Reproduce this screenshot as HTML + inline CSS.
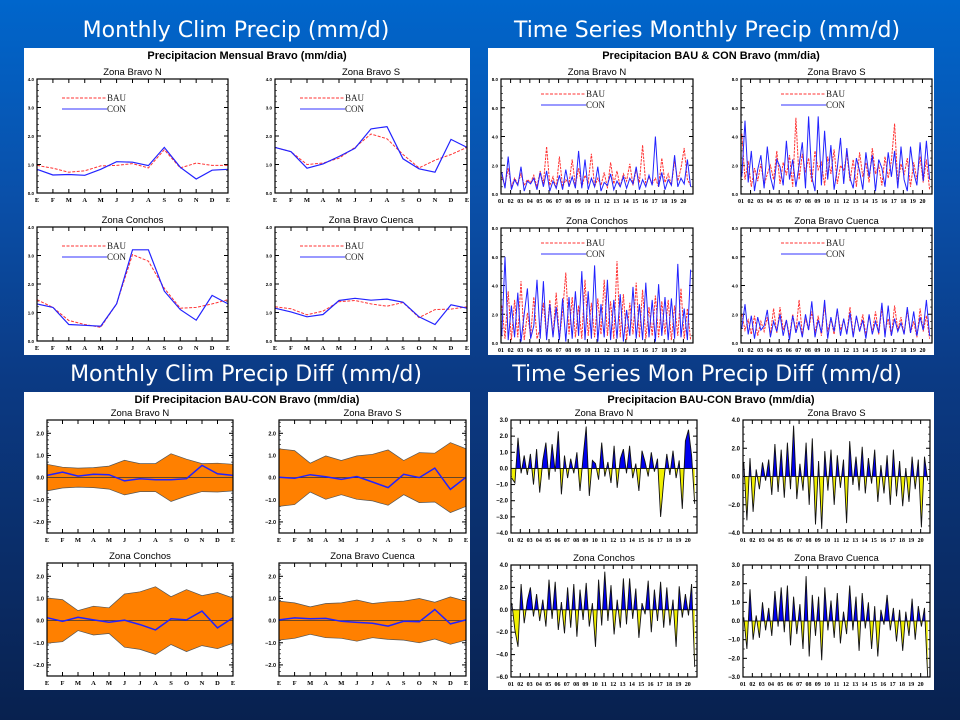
<!DOCTYPE html>
<html><head><meta charset="utf-8"><style>
html,body{margin:0;padding:0;width:960px;height:720px;overflow:hidden;}
body{background:linear-gradient(180deg,#0066cc 0px,#0a4fa8 200px,#0b3a84 380px,#0a2a62 600px,#08214f 720px);}
svg{position:absolute;left:0;top:0;}
</style></head><body>
<svg id="s" width="960" height="720" xmlns="http://www.w3.org/2000/svg"></svg>
<script>
// ---------- DATA ----------
const monthLabels=['E','F','M','A','M','J','J','A','S','O','N','D','E'];
const yearLabels=['01','02','03','04','05','06','07','08','09','10','11','12','13','14','15','16','17','18','19','20'];
const zoneNames=['Zona Bravo N','Zona Bravo S','Zona Conchos','Zona Bravo Cuenca'];
// Monthly climatology
const climN_BAU=[0.97,0.87,0.73,0.78,0.95,0.97,1.03,0.88,1.52,0.88,1.05,0.97,0.97];
const climN_CON=[0.83,0.63,0.65,0.62,0.83,1.1,1.08,0.96,1.6,0.9,0.49,0.8,0.83];
const climS_BAU=[1.6,1.45,1.0,1.05,1.22,1.6,2.07,1.9,1.35,0.88,1.15,1.35,1.6];
const climS_CON=[1.6,1.45,0.87,1.02,1.28,1.57,2.25,2.33,1.2,0.85,0.73,1.88,1.6];
const climC_BAU=[1.45,1.18,0.72,0.58,0.48,1.3,3.03,2.8,1.85,1.15,1.18,1.3,1.45];
const climC_CON=[1.3,1.18,0.58,0.55,0.52,1.3,3.2,3.2,1.75,1.1,0.73,1.6,1.3];
const climQ_BAU=[1.2,1.13,0.92,1.05,1.38,1.42,1.3,1.22,1.35,0.82,1.1,1.12,1.2];
const climQ_CON=[1.15,1.02,0.85,0.93,1.42,1.5,1.43,1.47,1.36,0.85,0.58,1.27,1.15];
// Monthly diff mean and spread
const difN_mean=[0.1,0.25,0.07,0.15,0.13,-0.15,-0.05,-0.1,-0.1,-0.05,0.55,0.17,0.1];
const difN_band=[0.6,0.47,0.43,0.45,0.52,0.78,0.63,0.63,1.08,0.83,0.63,0.65,0.6];
const difS_mean=[0.02,-0.03,0.13,0.04,-0.08,0.05,-0.2,-0.45,0.15,0.0,0.43,-0.53,0.02];
const difS_band=[1.3,1.22,0.65,0.98,0.77,0.98,1.05,1.25,0.77,1.13,1.1,1.58,1.3];
const difC_mean=[0.13,-0.03,0.15,0.03,-0.07,0.02,-0.18,-0.42,0.08,0.03,0.43,-0.33,0.13];
const difC_band=[1.02,0.95,0.45,0.65,0.58,1.2,1.3,1.53,1.08,1.4,1.13,1.27,1.02];
const difQ_mean=[0.03,0.12,0.08,0.1,-0.03,-0.08,-0.12,-0.25,-0.03,-0.05,0.5,-0.15,0.03];
const difQ_band=[0.88,0.8,0.62,0.77,0.8,0.93,0.77,0.85,0.88,1.0,0.83,1.07,0.88];
// Time series (sampled every 4 months)
const tsN_BAU=[1.2,0.6,1.8,0.5,1.1,0.7,1.4,0.6,1.0,0.8,1.3,0.5,1.6,0.7,3.3,0.6,1.2,0.4,2.6,0.5,1.0,0.7,2.4,0.6,1.8,0.5,1.3,0.8,2.8,0.5,1.1,0.6,1.5,0.4,2.2,0.7,1.6,0.5,1.4,0.9,2.1,0.6,1.7,0.8,3.4,0.6,1.2,0.7,1.1,0.5,2.5,0.8,1.4,0.6,2.3,0.9,1.8,3.2,1.0,0.6];
const tsN_CON=[1.5,0.4,2.6,0.3,1.0,0.6,1.9,0.2,0.9,0.7,1.1,0.3,1.5,0.5,1.6,0.2,0.9,0.4,1.3,0.3,1.7,0.5,1.2,0.4,3.0,0.4,2.4,0.3,1.1,0.5,1.9,0.2,0.8,0.6,1.4,0.3,0.9,0.5,1.2,0.4,1.1,0.7,1.9,0.3,1.0,0.5,1.3,0.6,4.0,0.5,1.5,0.3,1.0,0.6,2.7,0.5,1.1,0.7,2.4,0.5];
const tsS_BAU=[4.2,1.0,2.3,0.5,1.8,0.9,2.1,0.6,1.4,2.0,1.0,3.0,0.7,2.2,1.3,2.7,0.5,5.3,1.0,2.8,1.5,2.5,0.8,3.0,1.7,2.2,0.6,2.6,1.4,3.1,0.7,2.0,1.6,2.8,0.9,2.4,0.5,2.9,1.2,2.2,0.8,3.2,1.4,2.0,0.6,2.6,1.1,2.3,4.9,0.7,2.1,1.3,2.5,0.5,2.2,1.0,2.6,0.8,2.4,0.3];
const tsS_CON=[1.2,5.1,0.8,3.0,0.2,1.7,2.7,0.4,3.3,1.2,0.3,2.4,1.9,0.6,3.7,1.0,2.4,0.5,2.0,3.6,0.4,5.4,1.2,0.2,5.4,0.6,4.4,1.0,3.4,0.3,1.8,3.9,0.7,3.2,1.1,0.4,2.5,1.6,0.3,2.9,1.2,2.7,0.2,2.4,1.8,0.5,2.9,1.2,3.0,0.4,3.3,1.0,0.2,3.3,1.5,0.6,3.6,0.9,3.7,1.0];
const tsC_BAU=[2.6,0.3,3.6,0.2,3.0,0.4,4.3,0.2,2.1,0.5,3.2,0.3,1.0,2.8,0.4,3.0,0.5,3.5,0.3,2.2,4.9,0.6,3.2,0.4,2.6,0.3,4.4,0.5,2.8,0.4,3.1,0.6,4.4,0.5,2.9,0.3,5.7,0.4,3.4,0.2,2.8,0.6,4.2,0.4,3.7,0.3,2.5,0.5,3.3,0.4,2.9,0.6,3.0,0.2,2.6,0.5,3.8,0.3,2.4,0.2];
const tsC_CON=[0.5,6.0,0.2,2.6,0.4,3.5,0.1,2.0,3.8,0.3,1.2,4.4,0.3,4.3,0.2,2.7,0.4,2.5,0.2,3.1,0.1,3.2,0.3,3.6,0.5,5.0,0.2,3.6,0.3,5.4,0.1,2.7,0.4,4.4,0.2,3.0,0.3,3.4,0.1,2.3,0.5,3.9,0.3,2.7,0.2,4.2,0.4,3.0,0.1,4.1,0.5,3.2,0.2,3.1,0.3,5.5,0.4,2.4,0.2,5.1];
const tsQ_BAU=[2.0,0.9,1.6,0.6,1.9,0.5,1.5,0.8,1.8,0.6,2.4,0.7,2.5,0.9,1.6,0.5,2.0,0.8,3.0,0.6,1.7,0.9,2.2,0.7,1.9,0.5,2.6,0.8,1.7,0.6,2.3,0.9,1.6,0.7,2.5,0.6,1.8,0.8,2.0,0.5,1.9,0.7,2.2,0.6,2.4,0.8,1.7,0.5,2.6,0.9,1.8,0.6,2.3,0.7,1.5,0.4,2.4,0.8,1.9,0.3];
const tsQ_CON=[1.0,2.7,0.6,1.9,0.3,1.8,0.9,1.2,2.3,0.4,1.5,0.8,2.0,0.5,1.6,0.2,1.9,0.7,1.5,0.4,2.0,0.9,2.9,0.4,1.6,0.7,3.0,0.3,1.8,0.8,2.4,0.5,1.7,0.6,2.1,0.4,1.9,0.8,1.6,0.3,2.0,0.6,1.5,0.7,2.8,0.4,2.6,0.5,1.7,0.8,1.4,0.6,2.5,0.7,2.2,0.5,1.8,0.9,3.0,0.5];
// Time series of differences BAU-CON (sampled every 4 months)
const dfN=[-0.6,-0.9,1.9,-0.3,0.8,-0.4,0.9,-1.0,1.2,-1.5,0.5,1.6,-0.7,1.5,-0.2,2.3,-1.6,0.8,-0.6,0.6,-0.3,1.0,-1.4,0.7,2.6,-1.7,0.5,0.3,-0.7,1.6,-0.5,0.4,-0.9,1.4,-1.2,0.6,1.2,-0.3,1.4,-0.6,0.3,-1.4,1.1,0.4,-0.5,1.0,-0.2,0.6,-3.0,-0.8,0.9,-0.4,1.1,-0.6,0.5,-2.5,1.7,2.4,0.8,-2.2];
const dfS=[1.0,-3.1,1.3,-2.5,0.5,-0.9,1.0,-0.3,1.2,-1.3,2.3,-1.1,1.9,-1.5,2.4,-0.9,3.6,-1.6,0.9,-1.0,2.4,-2.0,2.7,-3.4,1.1,-3.7,1.8,-1.0,1.9,-2.0,1.5,-0.8,1.2,-3.3,2.5,-0.6,1.4,-1.0,2.1,-1.2,1.3,-0.5,1.9,-1.8,0.8,-1.2,1.5,-2.0,1.9,-1.4,1.1,-2.1,0.6,-1.8,1.4,-0.9,1.2,-3.6,1.4,-0.3];
const dfC=[0.6,-1.8,-3.3,2.3,-1.2,0.8,2.0,-0.6,1.4,-1.0,0.9,-1.5,2.7,-0.8,2.5,-1.8,0.7,-2.1,2.0,-1.6,2.3,-2.4,1.8,-0.9,2.4,-1.5,0.6,-3.3,2.7,-1.4,3.4,-1.0,2.2,-2.2,0.9,-1.6,2.8,-1.3,2.8,-0.8,1.9,-2.5,0.6,-0.4,2.6,-2.0,1.8,-1.0,2.5,-1.6,2.0,-1.4,0.9,-3.3,2.1,-0.7,1.4,-0.5,2.3,-5.1];
const dfQ=[0.2,-1.5,1.7,-1.0,0.3,-0.9,1.0,-0.5,0.7,-0.8,1.6,-0.3,1.8,-0.6,1.9,-1.3,1.3,-0.7,0.9,-1.5,2.4,-1.9,1.4,-0.8,1.3,-2.1,1.8,-0.5,1.1,-0.9,1.5,-1.2,0.5,-0.7,1.9,-0.5,1.3,-1.6,1.5,-0.4,1.0,-1.5,0.8,-1.9,0.6,-0.2,1.4,-0.5,0.7,-1.1,0.6,-1.6,0.5,-0.8,1.2,-1.0,0.8,-0.3,0.7,-3.0];

// ---------- DRAW ----------
const NS='http://www.w3.org/2000/svg';
const svg=document.getElementById('s');
function el(tag,attrs,parent,txt){const e=document.createElementNS(NS,tag);for(const k in attrs)e.setAttribute(k,attrs[k]);if(txt!==undefined)e.textContent=txt;(parent||svg).appendChild(e);return e;}
const F='"Liberation Sans",Arial,sans-serif';
const FS='"Liberation Serif",serif';
let clipId=0;

function slideTitle(txt,cx,y,name){
  const t=el('text',{x:cx,y:y,'text-anchor':'middle','font-family':'"DejaVu Sans",sans-serif','font-size':22,fill:'#fff'},svg,txt);
  
}
function whitePanel(x,y,w,h,title,name){
  const g=el('g',{});
  
  el('rect',{x:x,y:y,width:w,height:h,fill:'#fff'},g);
  const t=el('text',{x:x+w/2,y:y+11,'text-anchor':'middle','font-family':F,'font-size':11,'font-weight':'bold',fill:'#000'},g,title);
  
  return g;
}
function axes(g,o){
  const {x0,x1,y0,y1,xmin,xmax,ymin,ymax,yticks,ydec,xlabPos,xlabs,title,minorY,minorX,yfs,xfs,xfont}=o;
  const sx=v=>x0+(v-xmin)/(xmax-xmin)*(x1-x0);
  const sy=v=>y1-(v-ymin)/(ymax-ymin)*(y1-y0);
  const ax=el('g',{},g);
  
  const tt=el('text',{x:(x0+x1)/2,y:y0-4,'text-anchor':'middle','font-family':F,'font-size':9.5,fill:'#000'},ax,title);
  
  yticks.forEach(v=>{const y=sy(v);
    el('line',{x1:x0,x2:x0+4,y1:y,y2:y,stroke:'#000','stroke-width':1},ax);
    el('line',{x1:x1,x2:x1-4,y1:y,y2:y,stroke:'#000','stroke-width':1},ax);
    const l=el('text',{x:x0-3,y:y+2,'text-anchor':'end','font-family':F,'font-size':yfs||5,'font-weight':'bold',fill:'#000'},ax,(v<0?'\u2212'+Math.abs(v).toFixed(ydec):v.toFixed(ydec)));
    
  });
  if(minorY){for(let v=ymin;v<=ymax+1e-9;v+=minorY){const y=sy(v);
    el('line',{x1:x0,x2:x0+2,y1:y,y2:y,stroke:'#000','stroke-width':0.6},ax);
    el('line',{x1:x1,x2:x1-2,y1:y,y2:y,stroke:'#000','stroke-width':0.6},ax);}}
  xlabPos.forEach((v,i)=>{const x=sx(v);
    el('line',{x1:x,x2:x,y1:y1,y2:y1-4,stroke:'#000','stroke-width':1},ax);
    el('line',{x1:x,x2:x,y1:y0,y2:y0+4,stroke:'#000','stroke-width':1},ax);
    const l=el('text',{x:x,y:y1+9,'text-anchor':'middle','font-family':xfont||FS,'font-size':xfs||6.5,'font-weight':'bold',fill:'#000'},ax,xlabs[i]);
    
  });
  return {sx,sy,ax,frame:()=>{const r=el('rect',{x:x0,y:y0,width:x1-x0,height:y1-y0,fill:'none',stroke:'#000','stroke-width':1.2},g);}};
}
function line(g,arr,sx,sy,xf,stroke,w,dash,name){
  const pts=arr.map((v,i)=>sx(xf(i)).toFixed(1)+','+sy(v).toFixed(1)).join(' ');
  const p=el('polyline',{points:pts,fill:'none',stroke:stroke,'stroke-width':w},g);
  if(dash)p.setAttribute('stroke-dasharray',dash);
  
  return p;
}
function legend(g,x,y,fs){
  const lg=el('g',{},g);
  
  el('line',{x1:x,x2:x+45,y1:y,y2:y,stroke:'#f33','stroke-width':1,'stroke-dasharray':'3,1.5'},lg);
  const a=el('text',{x:x+45,y:y+3,'font-family':FS,'font-size':fs||8,fill:'#222'},lg,'BAU');
  
  el('line',{x1:x,x2:x+45,y1:y+11,y2:y+11,stroke:'#33f','stroke-width':1},lg);
  const b=el('text',{x:x+45,y:y+14,'font-family':FS,'font-size':fs||8,fill:'#222'},lg,'CON');
  
}

slideTitle('Monthly Clim Precip (mm/d)',236,37,'title-monthly-clim');
slideTitle('Time Series Monthly Precip (mm/d)',707,37,'title-time-series');
slideTitle('Monthly Clim Precip Diff (mm/d)',246,381,'title-monthly-diff');
slideTitle('Time Series Mon Precip Diff (mm/d)',707,381,'title-time-series-diff');

// ===== Panel 1: monthly clim =====
(function(){
  const g=whitePanel(24,48,446,307,'Precipitacion Mensual Bravo (mm/dia)','panel-monthly-clim');
  const boxes=[[37,228,79,193],[275,467,79,193],[37,228,227,341],[275,467,227,341]];
  const data=[[climN_BAU,climN_CON],[climS_BAU,climS_CON],[climC_BAU,climC_CON],[climQ_BAU,climQ_CON]];
  boxes.forEach((b,k)=>{
    const A=axes(g,{x0:b[0],x1:b[1],y0:b[2],y1:b[3],xmin:0,xmax:12,ymin:0,ymax:4,yticks:[0,1,2,3,4],ydec:1,minorY:0.2,
      xlabPos:monthLabels.map((_,i)=>i),xlabs:monthLabels,title:zoneNames[k],yfs:4.5});
    line(g,data[k][0],A.sx,A.sy,i=>i,'#f33',1,'3,1.5','bau-line');
    line(g,data[k][1],A.sx,A.sy,i=>i,'#22f',1.2,null,'con-line');
    legend(g,b[0]+25,b[2]+19,9);
    A.frame();
  });
})();

// ===== Panel 2: time series =====
(function(){
  const g=whitePanel(488,48,446,307,'Precipitacion BAU & CON Bravo (mm/dia)','panel-time-series');
  const boxes=[[501,693,79,194],[741,932,79,194],[501,693,228,343],[741,932,228,343]];
  const data=[[tsN_BAU,tsN_CON],[tsS_BAU,tsS_CON],[tsC_BAU,tsC_CON],[tsQ_BAU,tsQ_CON]];
  boxes.forEach((b,k)=>{
    const A=axes(g,{x0:b[0],x1:b[1],y0:b[2],y1:b[3],xmin:0,xmax:240,ymin:0,ymax:8,yticks:[0,2,4,6,8],ydec:1,minorY:0.5,
      xlabPos:yearLabels.map((_,i)=>i*12),xlabs:yearLabels,title:zoneNames[k],yfs:4.5,xfs:6});
    const xf=i=>i*4+1;
    line(g,data[k][0],A.sx,A.sy,xf,'#f33',1,'2.5,1','bau-series');
    line(g,data[k][1],A.sx,A.sy,xf,'#22f',1,null,'con-series');
    legend(g,b[0]+40,b[2]+15,9);
    A.frame();
  });
})();

// ===== Panel 3: monthly diff =====
(function(){
  const g=whitePanel(24,392,446,298,'Dif Precipitacion BAU-CON Bravo (mm/dia)','panel-monthly-diff');
  const boxes=[[47,233,420,533],[279,466,420,533],[47,233,563,676],[279,466,563,676]];
  const data=[[difN_mean,difN_band],[difS_mean,difS_band],[difC_mean,difC_band],[difQ_mean,difQ_band]];
  boxes.forEach((b,k)=>{
    const A=axes(g,{x0:b[0],x1:b[1],y0:b[2],y1:b[3],xmin:0,xmax:12,ymin:-2.5,ymax:2.6,yticks:[-2,-1,0,1,2],ydec:1,minorY:0.2,
      xlabPos:monthLabels.map((_,i)=>i),xlabs:monthLabels,title:zoneNames[k],yfs:5.5});
    const m=data[k][0],bd=data[k][1];
    const up=m.map((v,i)=>A.sx(i).toFixed(1)+','+A.sy(bd[i]).toFixed(1));
    const dn=m.map((v,i)=>A.sx(i).toFixed(1)+','+A.sy(-bd[i]).toFixed(1)).reverse();
    const p=el('polygon',{points:up.concat(dn).join(' '),fill:'#ff8000',stroke:'#555','stroke-width':0.7},g);
    
    const z=el('line',{x1:b[0],x2:b[1],y1:A.sy(0),y2:A.sy(0),stroke:'#333','stroke-width':0.8},g);
    
    line(g,m,A.sx,A.sy,i=>i,'#22f',1.5,null,'mean-diff-line');
    A.frame();
  });
})();

// ===== Panel 4: time series diff =====
(function(){
  const g=whitePanel(488,392,446,298,'Precipitacion BAU-CON Bravo (mm/dia)','panel-time-series-diff');
  const boxes=[[511,697,420,533],[743,930,420,533],[511,697,565,677],[743,930,565,677]];
  const ranges=[[-4,3,[-4,-3,-2,-1,0,1,2,3]],[-4,4,[-4,-2,0,2,4]],[-6,4,[-6,-4,-2,0,2,4]],[-3,3,[-3,-2,-1,0,1,2,3]]];
  const data=[dfN,dfS,dfC,dfQ];
  boxes.forEach((b,k)=>{
    const r=ranges[k];
    const A=axes(g,{x0:b[0],x1:b[1],y0:b[2],y1:b[3],xmin:0,xmax:240,ymin:r[0],ymax:r[1],yticks:r[2],ydec:1,minorY:0.5,
      xlabPos:yearLabels.map((_,i)=>i*12),xlabs:yearLabels,title:zoneNames[k],yfs:6,xfs:6});
    const d=data[k];
    const xf=i=>i*4+1;
    const y0=A.sy(0);
    const pts=d.map((v,i)=>A.sx(xf(i)).toFixed(1)+','+A.sy(v).toFixed(1));
    const poly=[A.sx(xf(0)).toFixed(1)+','+y0].concat(pts,[A.sx(xf(d.length-1)).toFixed(1)+','+y0]).join(' ');
    const idA='ca'+(clipId++),idB='cb'+(clipId++);
    const defs=el('defs',{},g);
    const c1=el('clipPath',{id:idA},defs);el('rect',{x:b[0],y:b[2],width:b[1]-b[0],height:y0-b[2]},c1);
    const c2=el('clipPath',{id:idB},defs);el('rect',{x:b[0],y:y0,width:b[1]-b[0],height:b[3]-y0},c2);
    const pos=el('polygon',{points:poly,fill:'#0000ee','clip-path':'url(#'+idA+')'},g);
    
    const neg=el('polygon',{points:poly,fill:'#f0f000','clip-path':'url(#'+idB+')'},g);
    
    const z=el('line',{x1:b[0],x2:b[1],y1:y0,y2:y0,stroke:'#000','stroke-width':0.8},g);
    
    line(g,d,A.sx,A.sy,xf,'#111',0.9,null,'diff-series');
    A.frame();
  });
})();
</script>
</body></html>
